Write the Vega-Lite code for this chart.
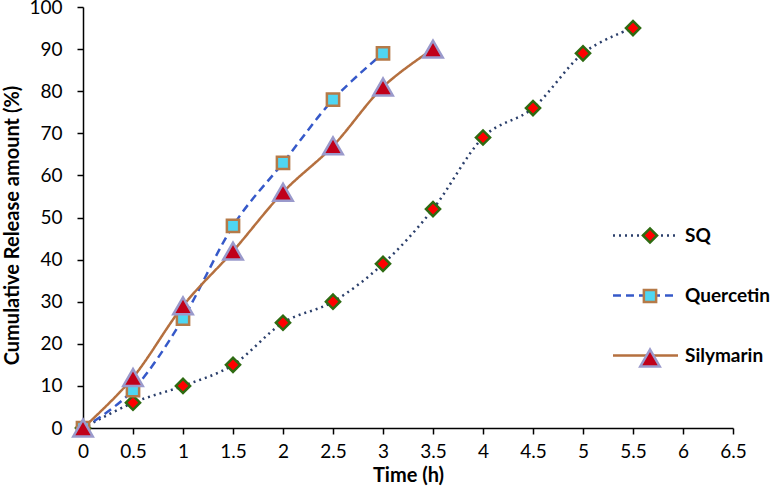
{
  "$schema": "https://vega.github.io/schema/vega-lite/v6.json",
  "width": 650,
  "height": 421,
  "autosize": "none",
  "padding": {"left": 83, "top": 7, "right": 43, "bottom": 75},
  "background": "white",
  "config": {
    "view": {"stroke": null},
    "font": "Lato",
    "axis": {
      "grid": false,
      "domainColor": "#000000",
      "domainWidth": 1.5,
      "tickColor": "#000000",
      "tickWidth": 1.5,
      "tickSize": 6,
      "labelFont": "Lato",
      "labelFontSize": 19,
      "labelColor": "#000000",
      "titleFont": "Lato",
      "titleFontSize": 20,
      "titleFontWeight": "bold",
      "titleColor": "#000000"
    }
  },
  "data": {
    "values": [
      {"series": "SQ", "t": 0, "v": 0},
      {"series": "SQ", "t": 0.5, "v": 6},
      {"series": "SQ", "t": 1, "v": 10},
      {"series": "SQ", "t": 1.5, "v": 15},
      {"series": "SQ", "t": 2, "v": 25},
      {"series": "SQ", "t": 2.5, "v": 30},
      {"series": "SQ", "t": 3, "v": 39},
      {"series": "SQ", "t": 3.5, "v": 52},
      {"series": "SQ", "t": 4, "v": 69},
      {"series": "SQ", "t": 4.5, "v": 76},
      {"series": "SQ", "t": 5, "v": 89},
      {"series": "SQ", "t": 5.5, "v": 95},
      {"series": "Quercetin", "t": 0, "v": 0},
      {"series": "Quercetin", "t": 0.5, "v": 9},
      {"series": "Quercetin", "t": 1, "v": 26},
      {"series": "Quercetin", "t": 1.5, "v": 48},
      {"series": "Quercetin", "t": 2, "v": 63},
      {"series": "Quercetin", "t": 2.5, "v": 78},
      {"series": "Quercetin", "t": 3, "v": 89},
      {"series": "Silymarin", "t": 0, "v": 0},
      {"series": "Silymarin", "t": 0.5, "v": 12},
      {"series": "Silymarin", "t": 1, "v": 29},
      {"series": "Silymarin", "t": 1.5, "v": 42},
      {"series": "Silymarin", "t": 2, "v": 56},
      {"series": "Silymarin", "t": 2.5, "v": 67},
      {"series": "Silymarin", "t": 3, "v": 81},
      {"series": "Silymarin", "t": 3.5, "v": 90}
    ]
  },
  "encoding": {
    "x": {
      "field": "t", "type": "quantitative",
      "scale": {"domain": [0, 6.5], "nice": false},
      "axis": {"values": [0, 0.5, 1, 1.5, 2, 2.5, 3, 3.5, 4, 4.5, 5, 5.5, 6, 6.5], "format": "~g", "labelPadding": 8, "title": "Time (h)", "titlePadding": 4, "labelFlush": false}
    },
    "y": {
      "field": "v", "type": "quantitative",
      "scale": {"domain": [0, 100], "nice": false},
      "axis": {"values": [0, 10, 20, 30, 40, 50, 60, 70, 80, 90, 100], "labelPadding": 15, "title": "Cumulative Release amount (%)", "titlePadding": 6, "titleY": 218}
    }
  },
  "layer": [
    {
      "mark": {"type": "line", "interpolate": "cardinal", "strokeWidth": 2.5},
      "encoding": {
        "color": {
          "field": "series", "type": "nominal", "sort": null,
          "scale": {"range": ["#2B3F6B", "#3659C9", "#B5703F"]},
          "legend": {"orient": "none", "legendX": 548, "legendY": 214, "title": null, "symbolType": "M-2.5,0H2.5", "symbolSize": 676, "symbolStrokeWidth": 2.5, "labelFont": "Lato", "labelFontSize": 19, "labelFontWeight": "bold", "labelColor": "#000000", "labelOffset": 25, "rowPadding": 35, "padding": 0}
        },
        "strokeDash": {
          "field": "series", "type": "nominal", "sort": null,
          "scale": {"range": [[2, 4], [8, 5], [1, 0]]},
          "legend": {"orient": "none", "legendX": 548, "legendY": 214, "title": null, "symbolType": "M-2.5,0H2.5", "symbolSize": 676, "symbolStrokeWidth": 2.5, "labelFont": "Lato", "labelFontSize": 19, "labelFontWeight": "bold", "labelColor": "#000000", "labelOffset": 25, "rowPadding": 35, "padding": 0}
        },
        "detail": {"field": "series"}
      }
    },
    {
      "mark": {"type": "point", "filled": true, "opacity": 1, "strokeWidth": 2.5},
      "encoding": {
        "size": {
          "field": "series", "type": "nominal",
          "scale": {"type": "ordinal", "domain": ["SQ", "Quercetin", "Silymarin"], "range": [200, 150, 380]},
          "legend": {"orient": "none", "legendX": 556, "legendY": 220, "title": null, "symbolStrokeWidth": 2.5, "labelExpr": "''", "labelFontSize": 16, "rowPadding": 36, "padding": 0}
        },
        "shape": {
          "field": "series", "type": "nominal",
          "scale": {"domain": ["SQ", "Quercetin", "Silymarin"], "range": ["diamond", "square", "triangle-up"]},
          "legend": {"orient": "none", "legendX": 556, "legendY": 220, "title": null, "symbolStrokeWidth": 2.5, "labelExpr": "''", "labelFontSize": 16, "rowPadding": 36, "padding": 0}
        },
        "fill": {
          "field": "series", "type": "nominal",
          "scale": {"domain": ["SQ", "Quercetin", "Silymarin"], "range": ["#FF0000", "#4FD6F2", "#C0001A"]},
          "legend": {"orient": "none", "legendX": 556, "legendY": 220, "title": null, "symbolStrokeWidth": 2.5, "labelExpr": "''", "labelFontSize": 16, "rowPadding": 36, "padding": 0}
        },
        "stroke": {
          "field": "series", "type": "nominal",
          "scale": {"domain": ["SQ", "Quercetin", "Silymarin"], "range": ["#2E6B12", "#B57A48", "#9A9ACC"]},
          "legend": {"orient": "none", "legendX": 556, "legendY": 220, "title": null, "symbolStrokeWidth": 2.5, "labelExpr": "''", "labelFontSize": 16, "rowPadding": 36, "padding": 0}
        }
      }
    }
  ]
}
